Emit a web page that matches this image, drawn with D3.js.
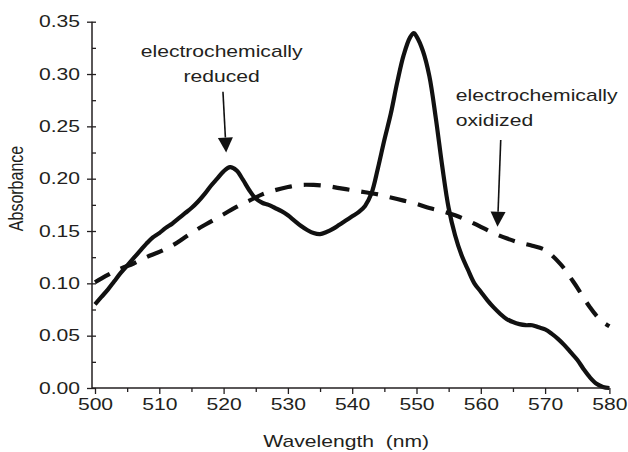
<!DOCTYPE html>
<html>
<head>
<meta charset="utf-8">
<script src="https://cdn.jsdelivr.net/npm/d3@7"></script>
<style>
  html, body { margin: 0; padding: 0; background: #fff; }
  svg { display: block; }
  text { font-family: "Liberation Sans", Arial, Helvetica, sans-serif; fill: #231f20; }
</style>
</head>
<body>
<svg id="chart" width="628" height="452"></svg>
<script>
// ---- data ----
const reducedWavelength = [500,501,502,503,504,505,506,507,508,509,510,511,512,513,514,515,516,517,518,519,520,521,522,523,524,525,526,527,528,529,530,531,532,533,534,535,536,537,538,539,540,541,542,543,544,545,546,547,548,549,549.6,550,551,552,553,554,555,556,557,558,559,560,561,562,563,564,565,566,567,568,569,570,571,572,573,574,575,576,577,578,579,580];
const reducedAbsorbance = [0.080,0.087,0.094,0.102,0.110,0.117,0.124,0.131,0.138,0.144,0.148,0.153,0.157,0.162,0.167,0.172,0.178,0.185,0.193,0.200,0.207,0.211,0.208,0.199,0.189,0.181,0.177,0.175,0.172,0.169,0.165,0.160,0.155,0.151,0.148,0.147,0.149,0.152,0.156,0.160,0.164,0.168,0.174,0.186,0.210,0.237,0.262,0.292,0.318,0.335,0.339,0.336,0.322,0.298,0.258,0.212,0.172,0.146,0.127,0.113,0.100,0.092,0.084,0.077,0.071,0.066,0.063,0.061,0.060,0.060,0.058,0.056,0.052,0.047,0.041,0.034,0.027,0.018,0.010,0.004,0.001,0.000];

const oxidizedWavelength = [500,502,504,506,508,510,512,514,516,518,520,522,524,526,528,530,532,534,536,538,540,542,544,546,548,550,552,554,556,558,560,562,564,566,568,570,571,572,573,574,575,576,577,578,579,580];
const oxidizedAbsorbance = [0.101,0.108,0.114,0.119,0.125,0.130,0.136,0.144,0.152,0.159,0.166,0.173,0.179,0.185,0.189,0.192,0.194,0.194,0.193,0.191,0.189,0.187,0.185,0.182,0.179,0.176,0.172,0.169,0.165,0.160,0.154,0.148,0.143,0.139,0.136,0.132,0.127,0.121,0.114,0.105,0.096,0.086,0.077,0.069,0.063,0.059];

const xTicks = [500,510,520,530,540,550,560,570,580];
const xMinorTicks = [505,515,525,535,545,555,565,575];
const yTicks = [0,0.05,0.10,0.15,0.20,0.25,0.30,0.35];
const yMinorTicks = [0.025,0.075,0.125,0.175,0.225,0.275,0.325];

const xLabel = "Wavelength  (nm)";
const yLabel = "Absorbance";

// annotations in data units
const annotReduced = { lines: ["electrochemically", "reduced"], textX: 519.7, textY: [0.3166, 0.2927], anchor: "middle", from: [519.9, 0.283], to: [520.4, 0.225] };
const annotOxidized = { lines: ["electrochemically", "oxidized"], textX: 556.1, textY: [0.2745, 0.2503], anchor: "start", from: [563.1, 0.237], to: [562.6, 0.154] };

// ---- layout ----
const SX = 1.32; // horizontal stretch of the original figure's text
const axisX = 92;
const x = d3.scaleLinear().domain([500, 580]).range([95, 609.4]);
const y = d3.scaleLinear().domain([0, 0.35]).range([388, 21.7]);

const svg = d3.select("#chart");

// curves
const lineGen = d3.line().x(d => x(d[0])).y(d => y(d[1])).curve(d3.curveCatmullRom.alpha(0.5));

svg.append("path")
  .datum(oxidizedWavelength.map((w, i) => [w, oxidizedAbsorbance[i]]))
  .attr("d", lineGen)
  .attr("fill", "none").attr("stroke", "#111").attr("stroke-width", 4.2)
  .attr("stroke-dasharray", "17,12");

svg.append("path")
  .datum(reducedWavelength.map((w, i) => [w, reducedAbsorbance[i]]))
  .attr("d", lineGen)
  .attr("fill", "none").attr("stroke", "#111").attr("stroke-width", 4.2)
  .attr("stroke-linejoin", "round");

// x axis
const gx = svg.append("g").attr("transform", `translate(0,${y(0)})`);
gx.call(d3.axisBottom(x).tickValues(xTicks).tickSize(6).tickPadding(5).tickFormat(d3.format("d")));
gx.select(".domain").remove();
gx.append("line").attr("x1", axisX).attr("x2", x(580)).attr("stroke", "#231f20").attr("stroke-width", 1.5);
gx.selectAll(".tick line").attr("stroke", "#231f20").attr("stroke-width", 1.3);
gx.selectAll(".tick text").attr("font-size", 16).attr("fill", "#231f20")
  .attr("transform", `scale(${SX},1)`).attr("font-family", "Liberation Sans, Arial, sans-serif");
const gxm = svg.append("g").attr("transform", `translate(0,${y(0)})`);
gxm.call(d3.axisBottom(x).tickValues(xMinorTicks).tickSize(4).tickFormat(""));
gxm.select(".domain").remove();
gxm.selectAll(".tick line").attr("stroke", "#231f20").attr("stroke-width", 1.3);

// y axis
const gy = svg.append("g").attr("transform", `translate(${axisX},0)`);
gy.call(d3.axisLeft(y).tickValues(yTicks).tickSize(5).tickPadding(0).tickFormat(d3.format(".2f")));
gy.select(".domain").remove();
gy.append("line").attr("y1", y(0)).attr("y2", y(0.35)).attr("stroke", "#231f20").attr("stroke-width", 1.5);
gy.selectAll(".tick line").attr("x2", -5).attr("x1", 4).attr("stroke", "#231f20").attr("stroke-width", 1.3);
gy.selectAll(".tick text").attr("font-size", 16).attr("fill", "#231f20")
  .attr("x", -12 / SX).attr("transform", `scale(${SX},1)`).attr("font-family", "Liberation Sans, Arial, sans-serif");
const gym = svg.append("g").attr("transform", `translate(${axisX},0)`);
gym.call(d3.axisRight(y).tickValues(yMinorTicks).tickSize(4).tickFormat(""));
gym.select(".domain").remove();
gym.selectAll(".tick line").attr("stroke", "#231f20").attr("stroke-width", 1.3);

// axis titles
svg.append("text")
  .attr("transform", `translate(${(x(500) + x(580)) / 2 - 6},447) scale(${SX},1)`)
  .attr("text-anchor", "middle").attr("font-size", 16).text(xLabel).style("white-space", "pre");
svg.append("text")
  .attr("transform", `translate(23,188.5) scale(${SX},1) rotate(-90)`)
  .attr("text-anchor", "middle").attr("font-size", 16).text(yLabel);

// annotations
function drawAnnot(a) {
  a.lines.forEach((t, i) => {
    svg.append("text")
      .attr("transform", `translate(${x(a.textX)},${y(a.textY[i])}) scale(${SX},1)`)
      .attr("text-anchor", a.anchor).attr("font-size", 16).text(t);
  });
  const x0 = x(a.from[0]), y0 = y(a.from[1]), x1 = x(a.to[0]), y1 = y(a.to[1]);
  const ang = Math.atan2(y1 - y0, x1 - x0);
  const headLen = 15, headHalf = 7.5;
  const bx = x1 - headLen * Math.cos(ang), by = y1 - headLen * Math.sin(ang);
  svg.append("line").attr("x1", x0).attr("y1", y0).attr("x2", bx).attr("y2", by)
    .attr("stroke", "#111").attr("stroke-width", 1.6);
  const px = -Math.sin(ang), py = Math.cos(ang);
  svg.append("path")
    .attr("d", `M${x1},${y1}L${bx + px * headHalf},${by + py * headHalf}L${bx - px * headHalf},${by - py * headHalf}Z`)
    .attr("fill", "#111");
}
drawAnnot(annotReduced);
drawAnnot(annotOxidized);
</script>
</body>
</html>
